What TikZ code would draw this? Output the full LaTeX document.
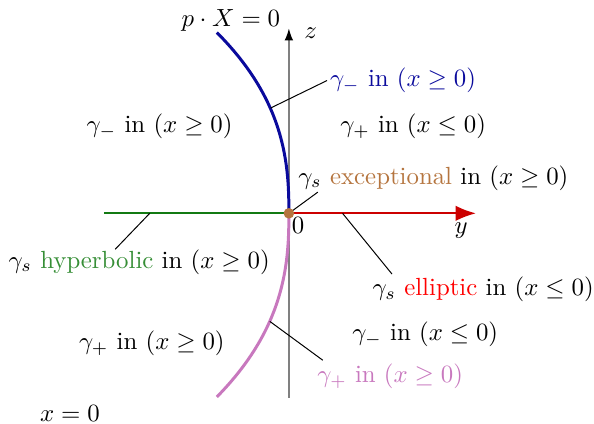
\documentclass[tikz,border=0pt]{standalone}
\usepackage{amsmath,amssymb}
\usepackage{xcolor}
\usepackage{tikz}
\usetikzlibrary{arrows.meta,positioning,calc}
\definecolor{bluec}{HTML}{0A0A9C}
\definecolor{greenc}{HTML}{137A13}
\definecolor{redc}{HTML}{CC0000}
\definecolor{pinkc}{HTML}{C878BE}
\definecolor{brownc}{HTML}{B5753F}

\begin{document}
\begin{tikzpicture}[
  ax/.style  ={black!50, line width=0.6pt},
  crv/.style ={line width=1.2pt},
  ptr/.style ={black, line width=0.4pt},
  dot/.style ={circle, fill=brownc, inner sep=0pt, minimum size=1.5mm}
]
\useasboundingbox (-4.09,-2.97) rectangle (4.32,3.02);
% ---------- axes ----------
\coordinate (O)    at (0,0);
\coordinate (zbot) at (0,-2.61);
\coordinate (ztop) at (0,2.62);
\coordinate (ylft) at (-2.62,0);
\coordinate (yrgt) at (2.65,0);
\draw[ax, -{Latex[length=1.7mm, width=1.2mm, color=black]}] (zbot) -- (ztop);
\draw[greenc, line width=0.9pt] (ylft) -- (O);
\draw[redc, line width=0.9pt, -{Latex[length=2.9mm, width=2.2mm]}] (O) -- (yrgt);

% ---------- curves ----------
\draw[bluec, crv] plot[domain=0:2.56, samples=40, smooth]
  ({-1.02*(\x/2.56)^2*sqrt(\x/2.56)}, \x);
\draw[pinkc, crv] plot[domain=0:2.6, samples=40, smooth]
  ({-1.02*(\x/2.6)^2*sqrt(\x/2.6)}, -\x);

% ---------- axis labels ----------
\node (pX)   at (-0.82,2.73) {$p\cdot X=0$};
\node (zl)   at (0.31,2.55)  {$z$};
\node (yl)   at (2.44,-0.25) {$y$};
\node (zero) at (0.13,-0.17) {$0$};
\node (xz)   at (-3.10,-2.83){$x=0$};

% ---------- regions ----------
\node (rgA) at (-1.83,1.23)  {$\gamma_-$ in $(x\geq 0)$};
\node (rgB) at (1.76,1.23)   {$\gamma_+$ in $(x\leq 0)$};
\node (rgC) at (1.93,-1.71)  {$\gamma_-$ in $(x\leq 0)$};
\node (rgD) at (-1.94,-1.84) {$\gamma_+$ in $(x\geq 0)$};

% ---------- pointed labels ----------
\node[bluec, anchor=west] (lmin) at (0.46,1.88) {$\gamma_-$ in $(x\geq 0)$};
\node[anchor=west] (lexc) at (0.01,0.50)
  {$\gamma_s$ \textcolor{brownc}{exceptional} in $(x\geq 0)$};
\node (lhyp) at (-2.12,-0.69)
  {$\gamma_s$ \textcolor{greenc!85!white}{hyperbolic} in $(x\geq 0)$};
\node (lell) at (2.75,-1.08)
  {$\gamma_s$ \textcolor{red}{elliptic} in $(x\leq 0)$};
\node[pinkc, anchor=west] (lpls) at (0.28,-2.31) {$\gamma_+$ in $(x\geq 0)$};

\coordinate (cb) at (-0.26,1.49);
\coordinate (bq) at (0.54,1.88);
\coordinate (xq) at (0.41,0.30);
\coordinate (hb) at (-1.97,0);
\coordinate (hq) at (-2.46,-0.51);
\coordinate (eb) at (0.76,0);
\coordinate (eq) at (1.46,-0.86);
\coordinate (cp) at (-0.27,-1.53);
\coordinate (pq) at (0.48,-2.08);

\draw[ptr] (cb) -- (bq);
\draw[ptr] (O)  -- (xq);
\draw[ptr] (hb) -- (hq);
\draw[ptr] (eb) -- (eq);
\draw[ptr] (cp) -- (pq);

\node[dot] (odot) at (O) {};
\end{tikzpicture}
\end{document}
